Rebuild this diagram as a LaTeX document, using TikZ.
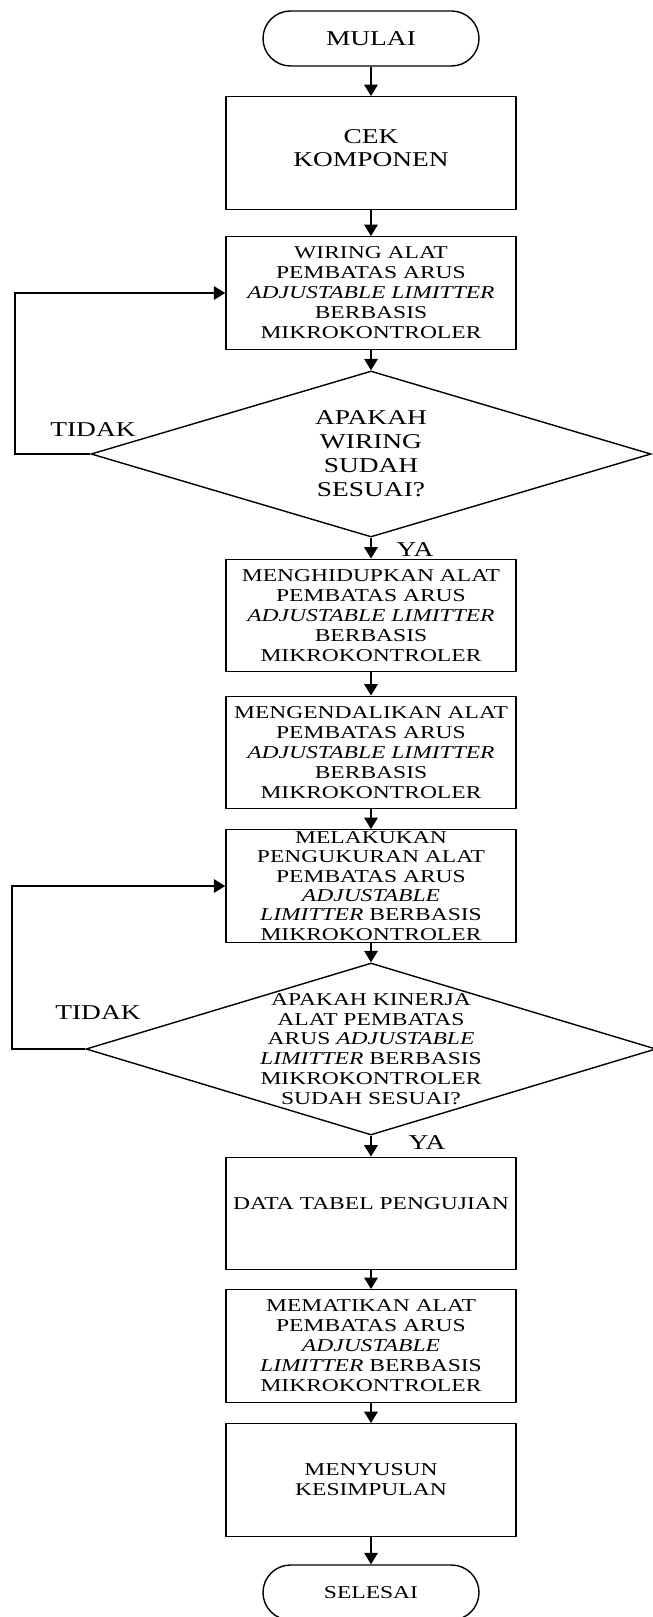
\documentclass[tikz,border=0pt]{standalone}
\usepackage{fontspec}
\setmainfont{Liberation Serif}[FakeStretch=1.3]
\usepackage{tikz}
\usetikzlibrary{shapes}
\usetikzlibrary{arrows.meta}

\begin{document}
\begin{tikzpicture}[
	proses/.style={rectangle, draw, line width=0.8pt, minimum width=5.8cm, minimum height=2.25cm, inner sep=0pt, align=center, font=\fontsize{10.3}{11.4}\selectfont},
	terminal/.style={rectangle, rounded corners=0.55cm, draw, line width=0.8pt, minimum width=4.32cm, minimum height=1.1cm, inner sep=0pt},
	keputusan/.style={diamond, draw, line width=0.8pt, inner sep=0pt, aspect=3.3},
	panah/.style={line width=1.1pt, -{Triangle[width=0.27cm,length=0.23cm]}},
	ket/.style={font=\fontsize{12}{13}\selectfont}
	]
				\useasboundingbox (0,0) rectangle (13.04,-32.34);
				
				\node[terminal, font=\fontsize{12}{13}\selectfont] (A) at (7.42,-0.77) {MULAI};
				\node[proses, font=\fontsize{12}{13.1}\selectfont] (B) at (7.42,-3.06) {CEK\\KOMPONEN\\[-7pt]\mbox{}};
				\node[proses] (C) at (7.42,-5.86) {WIRING ALAT\\PEMBATAS ARUS\\\textit{ADJUSTABLE LIMITTER}\\BERBASIS\\MIKROKONTROLER};
				\node[keputusan, minimum width=11.2cm, minimum height=3.32cm, label={[align=center, font=\fontsize{12}{13.6}\selectfont]center:APAKAH\\WIRING\\SUDAH\\SESUAI?}] (D) at (7.42,-9.08) {};
				\node[proses] (E) at (7.42,-12.31) {MENGHIDUPKAN ALAT\\PEMBATAS ARUS\\\textit{ADJUSTABLE LIMITTER}\\BERBASIS\\MIKROKONTROLER};
				\node[proses] (F) at (7.42,-15.05) {MENGENDALIKAN ALAT\\PEMBATAS ARUS\\\textit{ADJUSTABLE LIMITTER}\\BERBASIS\\MIKROKONTROLER};
				\node[proses, font=\fontsize{10.3}{11}\selectfont] (G) at (7.42,-17.72) {MELAKUKAN\\PENGUKURAN ALAT\\PEMBATAS ARUS\\\textit{ADJUSTABLE}\\\textit{LIMITTER} BERBASIS\\MIKROKONTROLER};
				\node[keputusan, minimum width=11.4cm, minimum height=3.44cm, label={[align=center, font=\fontsize{10.3}{11.3}\selectfont]center:APAKAH KINERJA\\ALAT PEMBATAS\\ARUS \textit{ADJUSTABLE}\\\textit{LIMITTER} BERBASIS\\MIKROKONTROLER\\SUDAH SESUAI?}] (H) at (7.42,-20.98) {};
				\node[proses] (I) at (7.42,-24.27) {DATA TABEL PENGUJIAN\\\mbox{}};
				\node[proses] (J) at (7.42,-26.92) {MEMATIKAN ALAT\\PEMBATAS ARUS\\\textit{ADJUSTABLE}\\\textit{LIMITTER} BERBASIS\\MIKROKONTROLER};
				\node[proses] (K) at (7.42,-29.6) {MENYUSUN\\KESIMPULAN};
				\node[terminal, font=\fontsize{10.3}{11}\selectfont] (L) at (7.42,-31.85) {SELESAI};
				
				\node[ket] (T1) at (1.86,-8.6) {TIDAK};
				\node[ket] (Y1) at (8.3,-11.0) {YA};
				\node[ket] (T2) at (1.96,-20.26) {TIDAK};
				\node[ket] (Y2) at (8.54,-22.86) {YA};
				
				\draw[panah] (A) -- (B);
				\draw[panah] (B) -- (C);
				\draw[panah] (C) -- (D);
				\draw[panah] (D) -- (E);
				\draw[panah] (E) -- (F);
				\draw[panah] (F) -- (G);
				\draw[panah] (G) -- (H);
				\draw[panah] (H) -- (I);
				\draw[panah] (I) -- (J);
				\draw[panah] (J) -- (K);
				\draw[panah] (K) -- (L);
				\draw[panah] (D.west) -- ++(-1.5,0) |- (C.west);
				\draw[panah] (H.west) -- ++(-1.46,0) |- (G.west);
			\end{tikzpicture}
\end{document}
